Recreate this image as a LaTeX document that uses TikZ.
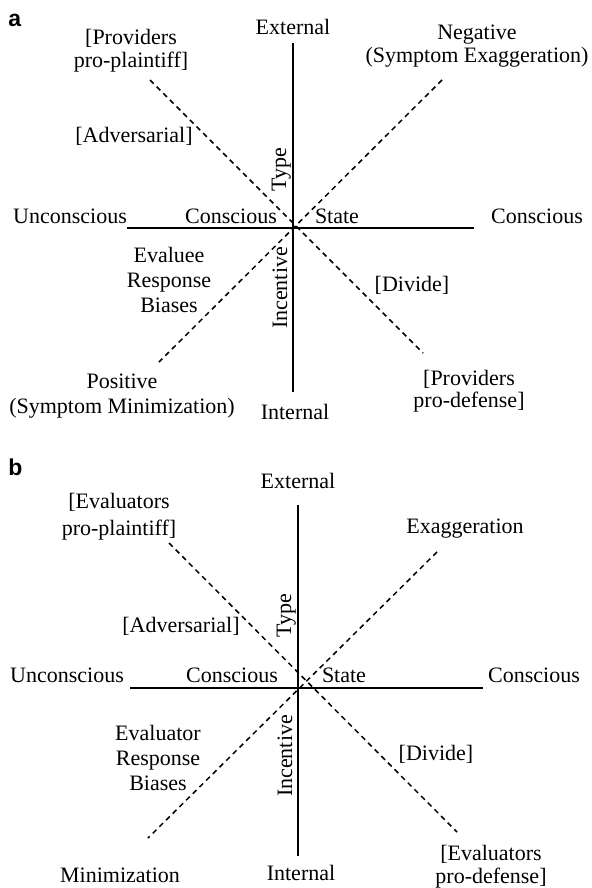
\documentclass[tikz,border=0pt]{standalone}
\usepackage{fontspec}
\setmainfont{Liberation Serif}
\newfontfamily\panelfont{Liberation Sans}
\begin{document}
\begin{tikzpicture}[x=0.5pt,y=-0.5pt,
  % multi-line labels are placed by the baseline of their last line
  lbl/.style={font=\fontsize{11}{#1}\selectfont, inner sep=0pt, align=center, anchor=base},
  lbl/.default=12pt,
  vlbl/.style={font=\fontsize{11}{12}\selectfont, inner sep=0pt, anchor=base, rotate=90},
  axis/.style={line width=1pt},
  diag/.style={line width=0.75pt, dash pattern=on 2.6pt off 2.1pt},
  panel/.style={font=\panelfont\bfseries\fontsize{11.5}{12}\selectfont, inner sep=0pt, anchor=base west}]
\useasboundingbox (0,0) rectangle (592,888);

% ---------- panel a ----------
\node[panel] (pa) at (8,27) {a};
\coordinate (aT) at (293,43);
\coordinate (aB) at (293,392);
\coordinate (aL) at (127,228);
\coordinate (aR) at (474,228);
\coordinate (aNW) at (150,80);
\coordinate (aSE) at (423,353);
\coordinate (aNE) at (442,80);
\coordinate (aSW) at (159,362);
\draw[axis] (aL) -- (aR);
\draw[axis] (aT) -- (aB);
\draw[diag] (aNW) -- (aSE);
\draw[diag] (aNE) -- (aSW);

\node[lbl] (aExt) at (293,35) {External};
\node[lbl] (aInt) at (295,419) {Internal};
\node[lbl] (aUnc) at (70,223) {Unconscious};
\node[lbl] (aConL) at (231,223) {Conscious};
\node[lbl] (aState) at (337,223) {State};
\node[lbl] (aConR) at (537,223) {Conscious};
\node[vlbl] (aType) at (286,170) {Type};
\node[vlbl] (aInc) at (287,288) {Incentive};
\node[lbl=11.5pt] (aPlain) at (131,68) {[Providers\\pro-plaintiff]};
\node[lbl] (aAdv) at (134,142) {[Adversarial]};
\node[lbl=11.5pt] (aNeg) at (477,63) {Negative\\(Symptom Exaggeration)};
\node[lbl=12.5pt] (aBias) at (169,312) {Evaluee\\Response\\Biases};
\node[lbl] (aDiv) at (412,291) {[Divide]};
\node[lbl=12.5pt] (aPos) at (122,413) {Positive\\(Symptom Minimization)};
\node[lbl=11pt] (aDef) at (469,407) {[Providers\\pro-defense]};

% ---------- panel b ----------
\node[panel] (pb) at (8,475) {b};
\coordinate (bT) at (298,505);
\coordinate (bB) at (298,856);
\coordinate (bL) at (130,688);
\coordinate (bR) at (483,688);
\coordinate (bNW) at (169,543);
\coordinate (bSE) at (457,832);
\coordinate (bNE) at (437,552);
\coordinate (bSW) at (148,838);
\draw[axis] (bL) -- (bR);
\draw[axis] (bT) -- (bB);
\draw[diag] (bNW) -- (bSE);
\draw[diag] (bNE) -- (bSW);

\node[lbl] (bExt) at (298,488) {External};
\node[lbl] (bInt) at (301,880) {Internal};
\node[lbl] (bUnc) at (67,682) {Unconscious};
\node[lbl] (bConL) at (232,682) {Conscious};
\node[lbl] (bState) at (344,682) {State};
\node[lbl] (bConR) at (534,682) {Conscious};
\node[vlbl] (bType) at (291,616) {Type};
\node[vlbl] (bInc) at (292,756) {Incentive};
\node[lbl=13.5pt] (bPlain) at (119,535) {[Evaluators\\pro-plaintiff]};
\node[lbl] (bAdv) at (181,632) {[Adversarial]};
\node[lbl] (bExa) at (465,533) {Exaggeration};
\node[lbl=12.5pt] (bBias) at (158,790) {Evaluator\\Response\\Biases};
\node[lbl] (bDiv) at (436,760) {[Divide]};
\node[lbl] (bMin) at (120,882) {Minimization};
\node[lbl=11.5pt] (bDef) at (491,883) {[Evaluators\\pro-defense]};
\end{tikzpicture}
\end{document}
